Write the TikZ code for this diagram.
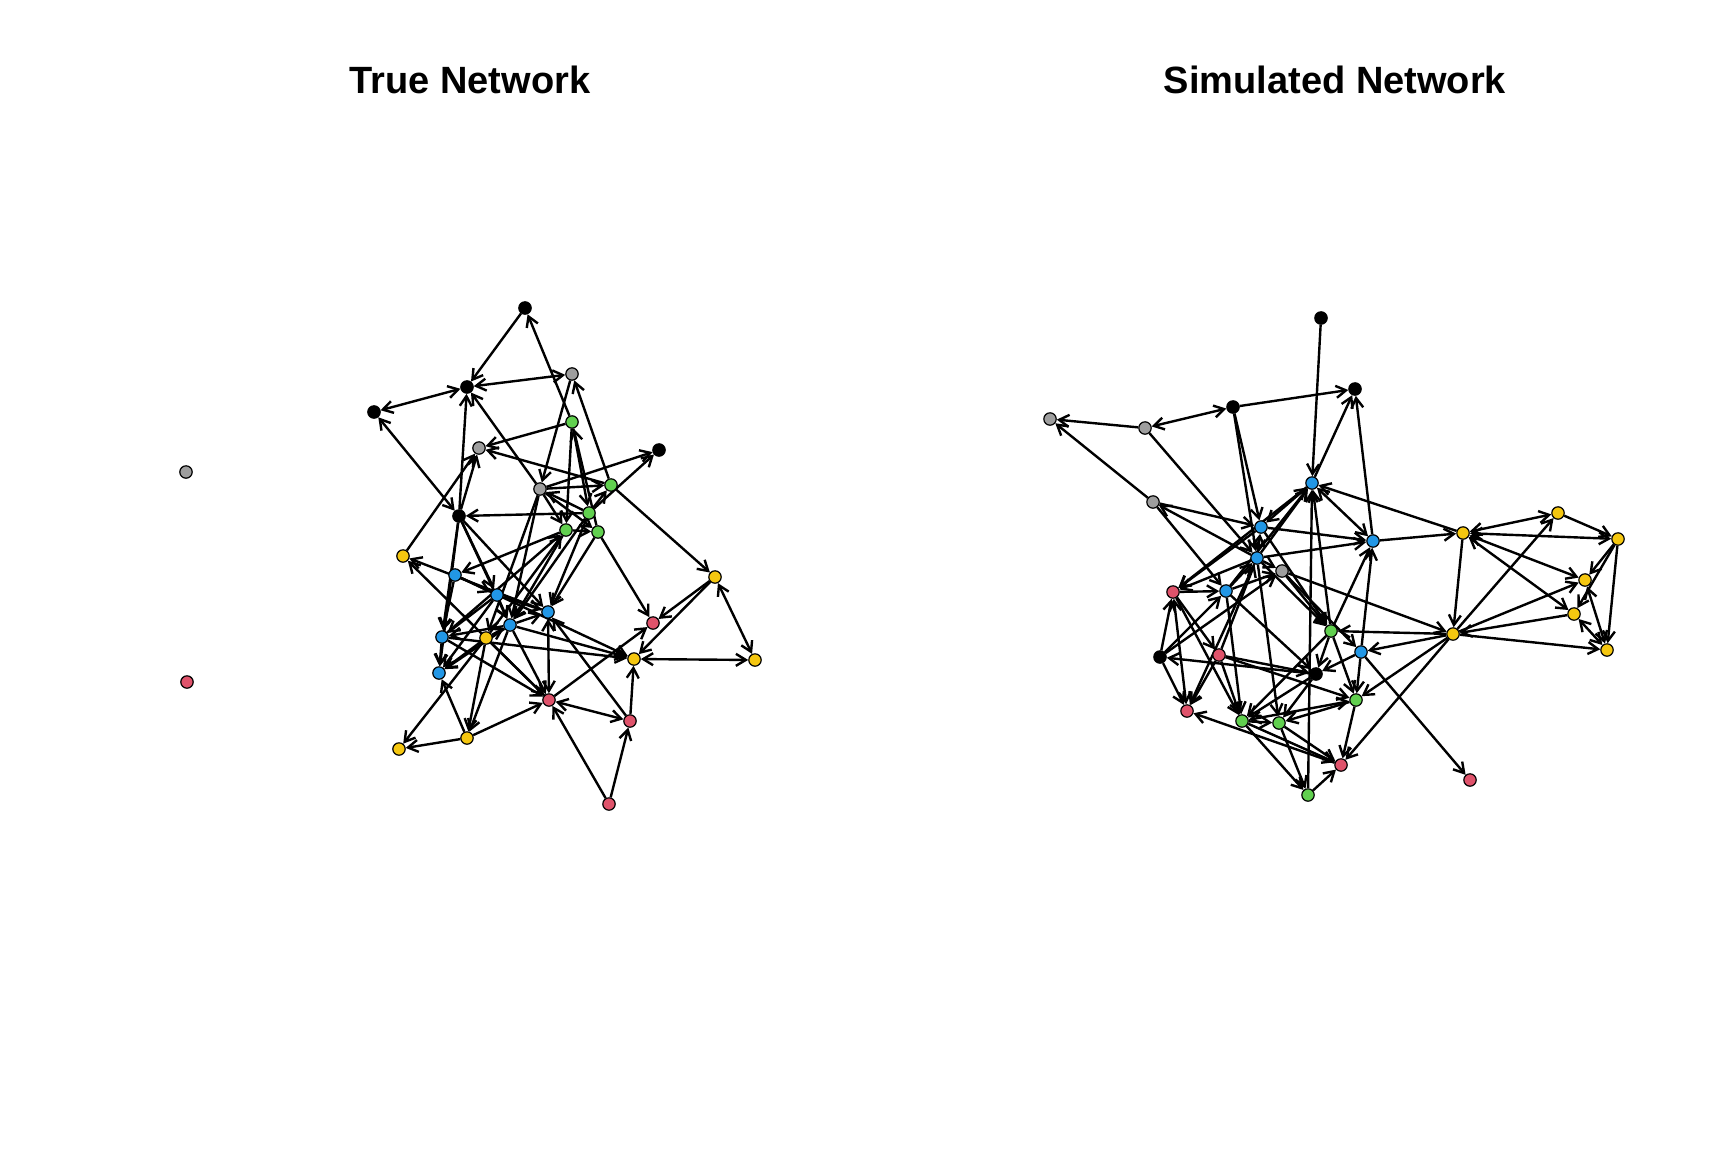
\documentclass[tikz,border=0pt]{standalone}
\usepackage{fontspec}
\setmainfont{Liberation Sans}
\usetikzlibrary{arrows.meta}
\pgfdeclarelayer{bg}
\pgfsetlayers{bg,main}
\definecolor{rred}{HTML}{DF536B}
\definecolor{rgreen}{HTML}{61D04F}
\definecolor{rblue}{HTML}{2297E6}
\definecolor{ryellow}{HTML}{F5C710}
\definecolor{rgray}{HTML}{9E9E9E}
\begin{document}
\begin{tikzpicture}[x=0.5pt,y=-0.5pt,
  vx/.style={circle,draw=black,line width=0.6pt,inner sep=0pt,minimum size=6.2pt},
  kb/.style={vx,fill=black}, kr/.style={vx,fill=rred}, kg/.style={vx,fill=rgreen},
  kl/.style={vx,fill=rblue}, ky/.style={vx,fill=ryellow}, kx/.style={vx,fill=rgray},
  ed/.style={line width=1.2pt,-{Straight Barb[length=5pt,width=6pt]}},
  edb/.style={line width=1.2pt,{Straight Barb[length=5pt,width=6pt]}-{Straight Barb[length=5pt,width=6pt]}},
  ttl/.style={anchor=base,font=\fontsize{19}{22}\selectfont\bfseries}]
\useasboundingbox (0,0) rectangle (1728,1152);
\node[ttl] (t1) at (470,93) {True Network};
\node[ttl] (t2) at (1335,93) {Simulated Network};
% left network
\node[kx] (La) at (186,472) {};
\node[kr] (Lb) at (187,682) {};
\node[kb] (Lc) at (525,308) {};
\node[kb] (Ld) at (467,387) {};
\node[kb] (Le) at (374,412) {};
\node[kx] (Lf) at (572,374) {};
\node[kg] (Lg) at (572,422) {};
\node[kx] (Lh) at (479,448) {};
\node[kb] (Li) at (659,450) {};
\node[kx] (Lj) at (540,489) {};
\node[kg] (Lk) at (611,485) {};
\node[kg] (Ll) at (589,513) {};
\node[kg] (Lm) at (566,530) {};
\node[kg] (Ln) at (598,532) {};
\node[kb] (Lo) at (459,516) {};
\node[ky] (Lp) at (403,556) {};
\node[ky] (Lq) at (715,577) {};
\node[kl] (Lr) at (455,575) {};
\node[kl] (Ls) at (497,595) {};
\node[kl] (Lt) at (548,612) {};
\node[kl] (Lu) at (510,625) {};
\node[kr] (Lv) at (653,623) {};
\node[kl] (Lw) at (442,637) {};
\node[ky] (Lx) at (486,638) {};
\node[ky] (Ly) at (634,659) {};
\node[ky] (Lz) at (755,660) {};
\node[kl] (LA) at (439,673) {};
\node[kr] (LB) at (549,700) {};
\node[kr] (LC) at (630,721) {};
\node[ky] (LD) at (467,738) {};
\node[ky] (LE) at (399,749) {};
\node[kr] (LF) at (609,804) {};
% right network
\node[kx] (Ra) at (1050,419) {};
\node[kx] (Rb) at (1145,428) {};
\node[kb] (Rc) at (1233,407) {};
\node[kb] (Rd) at (1355,389) {};
\node[kb] (Re) at (1321,318) {};
\node[kl] (Rf) at (1312,483) {};
\node[kx] (Rg) at (1153,502) {};
\node[kl] (Rh) at (1261,527) {};
\node[kl] (Ri) at (1373,541) {};
\node[kl] (Rj) at (1257,558) {};
\node[kx] (Rk) at (1282,571) {};
\node[kr] (Rl) at (1173,592) {};
\node[kl] (Rm) at (1226,591) {};
\node[ky] (Rn) at (1463,533) {};
\node[ky] (Ro) at (1558,513) {};
\node[ky] (Rp) at (1618,539) {};
\node[ky] (Rq) at (1585,580) {};
\node[ky] (Rr) at (1574,614) {};
\node[ky] (Rs) at (1607,650) {};
\node[ky] (Rt) at (1453,634) {};
\node[kg] (Ru) at (1331,631) {};
\node[kl] (Rv) at (1361,652) {};
\node[kb] (Rw) at (1160,657) {};
\node[kr] (Rx) at (1219,655) {};
\node[kb] (Ry) at (1316,674) {};
\node[kg] (Rz) at (1356,700) {};
\node[kr] (RA) at (1187,711) {};
\node[kg] (RB) at (1242,721) {};
\node[kg] (RC) at (1279,723) {};
\node[kr] (RD) at (1341,765) {};
\node[kg] (RE) at (1308,795) {};
\node[kr] (RF) at (1470,780) {};
\begin{pgfonlayer}{bg}
\fill[white] (0,0) rectangle (1728,1152);
\foreach \a/\b in {Lc/Ld,Lg/Lc,Lj/Ld,Lo/Ld,Lg/Lh,Lk/Lh,Lo/Lh,Lp/Lh,Lf/Lj,Lk/Lf,Lj/Li,Ll/Li,
  Lj/Lk,Lk/Lq,Ll/Lo,Lg/Ll,Lg/Lm,Ln/Lg,Ll/Lj,Lj/Ln,Lj/Lm,Ll/Lk,Lm/Ln,Lm/Lr,Lo/Lw,Lo/LA,
  Lo/Ls,Lo/Lt,Lo/Lu,Lr/Ls,Lr/Lw,Lr/Ly,Ls/Lu,Ls/Lw,Ls/LA,Ls/Lt,Lu/Lt,Lu/Lw,Lu/LA,Lx/LA,
  Lx/Lu,Lw/LA,Lu/LB,Lw/LB,Lx/LB,LD/LB,LD/LE,LD/LA,Lx/LE,Lx/LD,Lu/LD,Lt/Lp,LB/Lp,Ln/Lv,
  Lq/Lv,LB/Lv,Lq/Ly,LC/Ly,LC/Lt,LF/LB,LF/LC,Lu/Ly,Lw/Ly,Lj/Lu,Lj/Lx,Lm/Lu,Ll/Lu,Ln/Lt,
  Ll/Lt,Lw/Lm,Lx/Lm}
  \draw[ed] (\a) -- (\b);
\foreach \a/\b in {Lf/Ld,Le/Ld,Le/Lo,Lt/LB,Lq/Lz,Ly/Lz,LB/LC}
  \draw[edb] (\a) -- (\b);
\foreach \a/\b in {Re/Rf,Rc/Rd,Rb/Ra,Rg/Ra,Rf/Rd,Ri/Rd,Rc/Rh,Rc/Rj,Rb/Rj,Rg/Rh,Rj/Rg,Rg/Rm,
  Rj/Rf,Rm/Rf,Rf/Rl,Rh/Rl,Rj/Rl,Rl/Rm,Rm/Rj,Rn/Rf,Rh/Ri,Rj/Ri,Ri/Rn,Ru/Rf,Ru/Ri,Rv/Ri,
  Rn/Rt,Rt/Ro,Ro/Rp,Rp/Rq,Rp/Rr,Rp/Rs,Rt/Rq,Rr/Rt,Rt/Rs,Rt/Rv,Rt/Rz,Rt/RD,Rt/Ru,Rk/Rt,
  Rh/Ru,Rj/Ru,Rk/Ru,Rk/Rv,Rv/RF,Rj/Rk,Rm/Rk,Rw/Rk,Rw/Rm,Rw/RA,Rw/Rl,Ry/Rw,Rx/Ry,Rx/Rz,
  Rl/Rx,Rx/RA,Rx/RB,Rm/RB,Rl/RB,Rj/RC,RD/RA,Ru/Ry,Rv/Ry,Ru/Rz,Rv/Rz,Ru/RB,Ry/RB,Ry/RC,
  Rz/RC,Rz/RD,RB/RD,RC/RD,RB/RC,RE/RD,RB/RE,RC/RE,RE/Rf,Rm/Ry,Rx/Rj,Rj/RA}
  \draw[ed] (\a) -- (\b);
\foreach \a/\b in {Rb/Rc,Rh/Rf,Rh/Rj,Rf/Ri,Rn/Ro,Rn/Rp,Rn/Rq,Rn/Rr,Rq/Rs,Rr/Rs,Rl/RA,RB/Rz}
  \draw[edb] (\a) -- (\b);
\end{pgfonlayer}
\end{tikzpicture}
\end{document}
